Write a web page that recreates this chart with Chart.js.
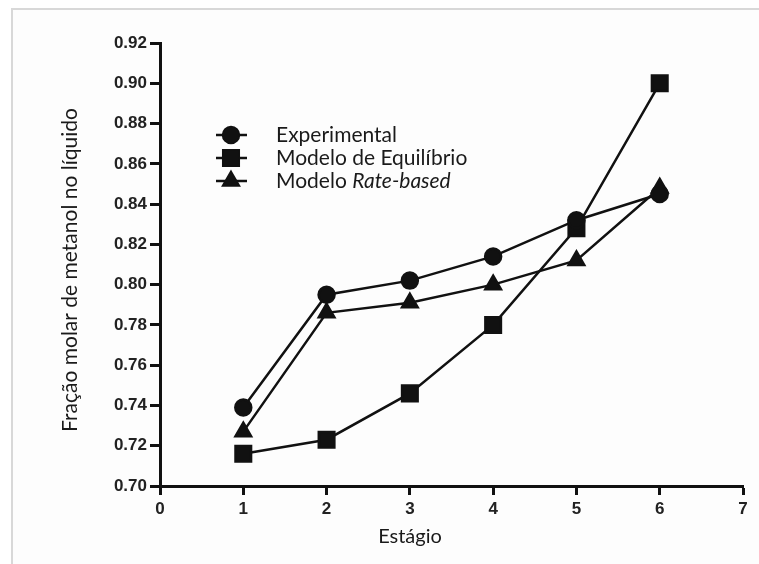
<!DOCTYPE html>
<html>
<head>
<meta charset="utf-8">
<script src="https://cdn.jsdelivr.net/npm/chart.js@4.4.1/dist/chart.umd.min.js"></script>
<style>
  html, body { margin: 0; padding: 0; background: #fff; }
  #wrap { position: relative; width: 759px; height: 564px; }
  #frame { position: absolute; left: 11px; top: 8px; right: 0; bottom: 0;
           border-top: 2px solid #d8d8d8; border-left: 2px solid #d8d8d8; background: #fdfdfd; }
  canvas { position: absolute; left: 0; top: 0; }
</style>
</head>
<body>
<div id="wrap">
  <div id="frame"></div>
  <canvas id="chart" width="759" height="564"></canvas>
</div>
<script>
// --- données ---
const stages = [1, 2, 3, 4, 5, 6];
const experimental = [0.739, 0.795, 0.802, 0.814, 0.832, 0.845];
const equilibrio = [0.716, 0.723, 0.746, 0.780, 0.828, 0.900];
const rateBased = [0.727, 0.786, 0.791, 0.800, 0.812, 0.848];
const xTicks = [0, 1, 2, 3, 4, 5, 6, 7];
const yTicks = [0.70, 0.72, 0.74, 0.76, 0.78, 0.80, 0.82, 0.84, 0.86, 0.88, 0.90, 0.92];

const INK = '#111';
const TXT = '#1a1a1a';

function pts(vals) {
    return vals.map((v, i) => ({ x: stages[i], y: v }));
}

// legende + titres des axes dessinés à la main
const extrasPlugin = {
    id: 'extras',
    afterDraw(chart) {
        const ctx = chart.ctx;
        ctx.save();
        // légende
        const rows = [
            { ds: 0, parts: [['Experimental', '']] },
            { ds: 1, parts: [['Modelo de Equilíbrio', '']] },
            { ds: 2, parts: [['Modelo ', ''], ['Rate-based', 'italic ']] }
        ];
        const rowY = [135, 158, 181];
        rows.forEach((r, i) => {
            const ds = chart.data.datasets[r.ds];
            const y = rowY[i];
            ctx.strokeStyle = INK;
            ctx.lineWidth = 2.5;
            ctx.beginPath();
            ctx.moveTo(216, y);
            ctx.lineTo(247, y);
            ctx.stroke();
            ctx.fillStyle = INK;
            Chart.helpers.drawPoint(ctx, {
                pointStyle: ds.pointStyle, radius: ds.pointRadius, borderWidth: 1, rotation: 0
            }, 231, y);
            ctx.fill();
            let x = 276;
            ctx.fillStyle = TXT;
            ctx.textBaseline = 'middle';
            ctx.textAlign = 'left';
            r.parts.forEach(p => {
                ctx.font = p[1] + '21px Lato';
                ctx.fillText(p[0], x, y);
                x += ctx.measureText(p[0]).width;
            });
        });
        // titres des axes
        ctx.font = '20px Lato';
        ctx.fillStyle = TXT;
        ctx.textAlign = 'center';
        ctx.textBaseline = 'middle';
        ctx.fillText('Estágio', 410, 537);
        ctx.font = '21px Lato';
        ctx.translate(70, 270);
        ctx.rotate(-Math.PI / 2);
        ctx.fillText('Fração molar de metanol no líquido', 0, 0);
        ctx.restore();
    }
};

const lineStyle = { borderColor: INK, backgroundColor: INK, borderWidth: 2.5, fill: false, tension: 0,
                    pointBorderColor: INK, pointBackgroundColor: INK };

new Chart(document.getElementById('chart').getContext('2d'), {
    type: 'line',
    data: {
        datasets: [
            Object.assign({ label: 'Experimental', data: pts(experimental), pointStyle: 'circle', pointRadius: 8 }, lineStyle),
            Object.assign({ label: 'Modelo de Equilíbrio', data: pts(equilibrio), pointStyle: 'rect', pointRadius: 11 }, lineStyle),
            Object.assign({ label: 'Modelo Rate-based', data: pts(rateBased), pointStyle: 'triangle', pointRadius: 9 }, lineStyle)
        ]
    },
    options: {
        responsive: false,
        animation: false,
        layout: { padding: { left: 0, top: 43, right: 16, bottom: 0 } },
        plugins: { legend: { display: false }, tooltip: { enabled: false } },
        scales: {
            x: {
                type: 'linear', min: 0, max: 7,
                afterBuildTicks: s => { s.ticks = xTicks.map(v => ({ value: v })); },
                afterFit: s => { s.height = 78; },
                grid: { drawOnChartArea: false, drawTicks: true, tickLength: 9, tickWidth: 3, tickColor: INK },
                border: { display: true, width: 3, color: INK },
                ticks: { color: '#222', padding: 4, font: { family: 'Liberation Sans', size: 17, weight: 'bold' } }
            },
            y: {
                type: 'linear', min: 0.70, max: 0.92,
                afterBuildTicks: s => { s.ticks = yTicks.map(v => ({ value: v })); },
                afterFit: s => { s.width = 160; },
                grid: { drawOnChartArea: false, drawTicks: true, tickLength: 10, tickWidth: 3, tickColor: INK },
                border: { display: true, width: 3, color: INK },
                ticks: { color: '#222', padding: 3, font: { family: 'Liberation Sans', size: 17, weight: 'bold' },
                         callback: v => v.toFixed(2) }
            }
        }
    },
    plugins: [extrasPlugin]
});
</script>
</body>
</html>
